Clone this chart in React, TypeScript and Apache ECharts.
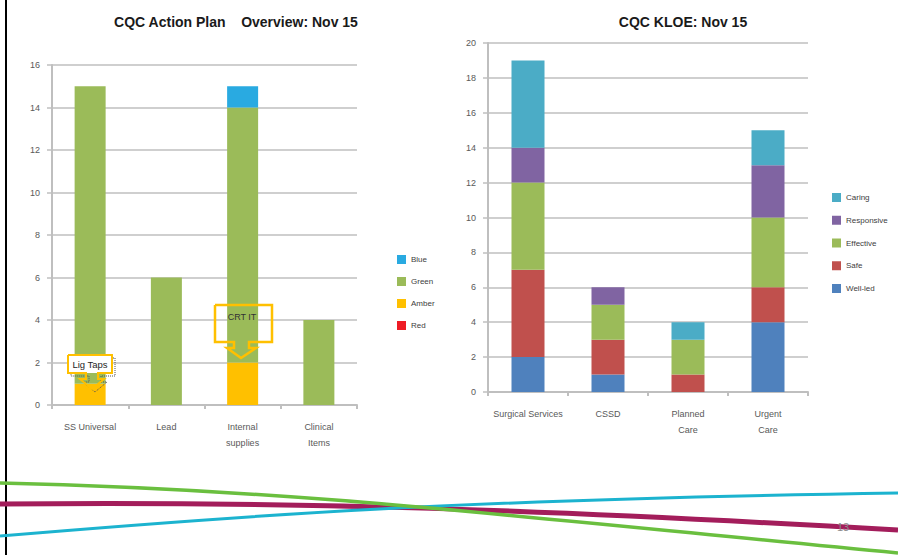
import React, { useEffect, useRef } from 'react';
import * as echarts from 'echarts';

// ---- Left chart: CQC Action Plan ----
const leftTitle = 'CQC Action Plan    Overview: Nov 15';
const leftCategories = ['SS Universal', 'Lead', 'Internal\nsupplies', 'Clinical\nItems'];
const leftRed = [0, 0, 0, 0];
const leftAmber = [1, 0, 2, 0];
const leftGreen = [14, 6, 12, 4];
const leftBlue = [0, 0, 1, 0];
const leftLegend = ['Blue', 'Green', 'Amber', 'Red'];

// ---- Right chart: CQC KLOE ----
const rightTitle = 'CQC KLOE: Nov 15';
const rightCategories = ['Surgical Services', 'CSSD', 'Planned\nCare', 'Urgent\nCare'];
const wellLed = [2, 1, 0, 4];
const safe = [5, 2, 1, 2];
const effective = [5, 2, 2, 4];
const responsive = [2, 1, 0, 3];
const caring = [5, 0, 1, 2];
const rightLegend = ['Caring', 'Responsive', 'Effective', 'Safe', 'Well-led'];

const calloutTexts = ['Lig Taps', 'CRT IT'];
const pageNumber = '13';

const FONT = '"Liberation Sans", Arial, sans-serif';
const AXIS_GREY = '#bfbfbf';
const LABEL = '#595959';

export default function App() {
  const ref = useRef<HTMLDivElement>(null);

  useEffect(() => {
    document.body.style.margin = '0';
    if (!ref.current) return;
    const chart = echarts.init(ref.current, undefined, { renderer: 'svg' });

    const axisLabel = { fontSize: 9, color: LABEL, fontFamily: FONT };
    const yAxisCommon = {
      type: 'value',
      min: 0,
      interval: 2,
      axisLine: { show: true, lineStyle: { color: AXIS_GREY, width: 2 } },
      axisTick: { show: true, length: 5, lineStyle: { color: AXIS_GREY, width: 1.5 } },
      splitLine: { show: true, lineStyle: { color: AXIS_GREY, width: 1.5 } },
      axisLabel: { ...axisLabel, margin: 12 },
    };
    const xAxisCommon = {
      type: 'category',
      axisLine: { show: true, lineStyle: { color: AXIS_GREY, width: 2 } },
      axisTick: { show: true, length: 4, interval: 0, lineStyle: { color: AXIS_GREY, width: 2 } },
      axisLabel: { ...axisLabel, margin: 14, interval: 0, lineHeight: 16 },
    };

    const bar = (name: string, data: number[], color: string, idx: number, width: number) => ({
      name,
      type: 'bar',
      stack: idx === 0 ? 'left' : 'right',
      xAxisIndex: idx,
      yAxisIndex: idx,
      data,
      barWidth: width,
      itemStyle: { color },
    });

    const callout1 = [
      [68, 355], [112, 355], [112, 373], [98, 373], [98, 379], [104, 379], [92, 389],
      [80, 379], [86, 379], [86, 373], [68, 373], [68, 355],
    ];
    const callout2 = [
      [215, 305], [272, 305], [272, 342], [249, 342], [249, 348], [256, 348], [241, 358],
      [227, 348], [234, 348], [234, 342], [215, 342], [215, 305],
    ];

    chart.setOption({
      animation: false,
      backgroundColor: '#ffffff',
      title: [
        {
          text: leftTitle,
          left: 231,
          textAlign: 'center',
          top: 10,
          textStyle: { fontSize: 14, fontWeight: 'bold', color: '#1a1a1a', fontFamily: FONT },
        },
        {
          text: rightTitle,
          left: 678,
          textAlign: 'center',
          top: 10,
          textStyle: { fontSize: 14, fontWeight: 'bold', color: '#1a1a1a', fontFamily: FONT },
        },
      ],
      legend: [
        {
          data: leftLegend,
          orient: 'vertical',
          left: 392,
          top: 250,
          itemWidth: 9,
          itemHeight: 9,
          itemGap: 13,
          icon: 'rect',
          textStyle: { fontSize: 8, color: '#404040', fontFamily: FONT },
        },
        {
          data: rightLegend,
          orient: 'vertical',
          left: 827,
          top: 188,
          itemWidth: 9,
          itemHeight: 9,
          itemGap: 13.75,
          icon: 'rect',
          textStyle: { fontSize: 8, color: '#404040', fontFamily: FONT },
        },
      ],
      grid: [
        { left: 52, top: 65, width: 305, height: 340 },
        { left: 488, top: 43, width: 320, height: 349 },
      ],
      xAxis: [
        { ...xAxisCommon, gridIndex: 0, data: leftCategories },
        { ...xAxisCommon, gridIndex: 1, data: rightCategories },
      ],
      yAxis: [
        { ...yAxisCommon, gridIndex: 0, max: 16 },
        { ...yAxisCommon, gridIndex: 1, max: 20 },
      ],
      series: [
        bar('Red', leftRed, '#ee1c25', 0, 31),
        bar('Amber', leftAmber, '#ffc000', 0, 31),
        bar('Green', leftGreen, '#9bbb59', 0, 31),
        bar('Blue', leftBlue, '#29aae1', 0, 31),
        bar('Well-led', wellLed, '#4f81bd', 1, 33),
        bar('Safe', safe, '#c0504d', 1, 33),
        bar('Effective', effective, '#9bbb59', 1, 33),
        bar('Responsive', responsive, '#8064a2', 1, 33),
        bar('Caring', caring, '#4bacc6', 1, 33),
      ],
      graphic: [
        // slide border
        { type: 'line', z: 50, shape: { x1: 6, y1: 0, x2: 6, y2: 555 }, style: { stroke: '#000', lineWidth: 2 } },
        // decorative swooshes
        {
          type: 'bezierCurve', z: 50,
          shape: { x1: 0, y1: 504, cpx1: 300, cpy1: 501, cpx2: 550, cpy2: 510, x2: 898, y2: 530 },
          style: { stroke: '#a31d5b', lineWidth: 5, fill: 'none' },
        },
        {
          type: 'bezierCurve', z: 51,
          shape: { x1: 0, y1: 536, cpx1: 250, cpy1: 515, cpx2: 450, cpy2: 500, x2: 898, y2: 493 },
          style: { stroke: '#1cb3cf', lineWidth: 3, fill: 'none' },
        },
        {
          type: 'bezierCurve', z: 52,
          shape: { x1: 0, y1: 483, cpx1: 300, cpy1: 490, cpx2: 500, cpy2: 515, x2: 898, y2: 553 },
          style: { stroke: '#6abf3f', lineWidth: 3.5, fill: 'none' },
        },
        {
          type: 'text', z: 53, x: 843, y: 527,
          style: { text: pageNumber, fontSize: 11, fill: '#8c8c8c', align: 'center', verticalAlign: 'middle', fontFamily: FONT },
        },
        // callout 1
        {
          type: 'polyline', z: 60,
          shape: { points: callout1.map(([x, y]) => [x + 3, y + 3]) },
          style: { stroke: '#555', lineWidth: 1, lineDash: [1, 1], fill: 'none' },
        },
        { type: 'rect', z: 61, shape: { x: 68, y: 355, width: 44, height: 18 }, style: { fill: '#ffffff' } },
        {
          type: 'polyline', z: 62,
          shape: { points: callout1 },
          style: { stroke: '#ffc000', lineWidth: 2, fill: 'none' },
        },
        {
          type: 'text', z: 63, x: 90, y: 364,
          style: { text: calloutTexts[0], fontSize: 9.5, fill: '#262626', align: 'center', verticalAlign: 'middle', fontFamily: FONT },
        },
        // callout 2
        {
          type: 'polyline', z: 62,
          shape: { points: callout2 },
          style: { stroke: '#ffc000', lineWidth: 2.5, fill: 'none' },
        },
        {
          type: 'text', z: 63, x: 242, y: 317,
          style: { text: calloutTexts[1], fontSize: 9, fill: '#333333', align: 'center', verticalAlign: 'middle', fontFamily: FONT },
        },
      ],
    });

    return () => chart.dispose();
  }, []);

  return (
    <div
      ref={ref}
      style={{ position: 'fixed', left: 0, top: 0, width: 898, height: 555, background: '#fff' }}
    />
  );
}
